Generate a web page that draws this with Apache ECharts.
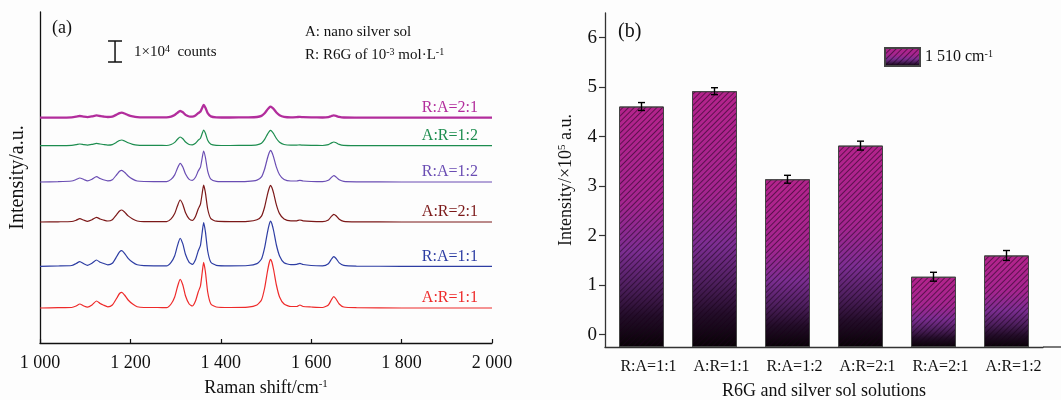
<!DOCTYPE html>
<html><head><meta charset="utf-8">
<script src="https://cdn.jsdelivr.net/npm/echarts@6/dist/echarts.min.js"></script>
<style>html,body{margin:0;padding:0;background:#fdfdfd}#c{width:1061px;height:400px}</style>
</head><body><div id="c"></div><script>
// ---------- panel (a): Raman spectra (intensity in a.u.) ----------
const wavenumbers = [1000,1040,1070,1080,1088,1097,1105,1115,1125,1133,1140,1150, 1160,1170,1176,1181,1187,1195,1205,1215,1230,1260,1280, 1290,1298,1304,1310,1316,1322,1330,1337, 1344,1350,1355,1359,1362,1366,1371,1378,1390, 1420,1460,1480,1490,1497,1503,1507,1510,1513,1517,1523,1530,1540,1555, 1568,1575,1582,1600,1625,1638,1645,1650,1655,1662,1672,1700,1800,1900,2000];
const spec_AR_1_1 = [0,0.3,0.5,2,4,2,0.8,3,7,4.5,3,1.2, 3,10,14.5,15.7,13,8,4,1.3,0.5,0.5,0.3, 4,11,21,28.7,23,12,4,2, 7,16,22,36,45.7,36,16,4,1, 0.5,0.8,3,8,20,36,45,48.7,46,38,23,11,4,1.5, 1.5,3,1.5,1,0.5,3,8.5,11.3,9,4,1,0.3,0,0,0];
const spec_RA_1_1 = [0,0.3,0.8,2.8,4.7,2.5,1,3,6.3,4,3,1.4, 3,10,14.5,15.7,13,8,4,1.5,0.6,0.5,0.4, 4,10.6,20.4,28,22.4,11.8,4,2, 6.6,15.3,21,34.5,43.7,34.5,15.3,4,1, 0.5,0.8,2.7,7.2,18.6,33.5,41.7,45.3,42.6,35.3,21.3,10.4,3.6,1.6, 2,3,1.8,0.8,0.5,2.6,7.3,9.7,7.8,3.4,0.9,0.2,0,0,0];
const spec_AR_2_1 = [0,0.2,0.5,1.8,3.3,1.8,0.7,2.2,4.7,3,2,1, 2.3,7.7,11,12,10,6.1,3,1,0.4,0.4,0.3, 3.1,8.4,16,22,17.6,9.2,3.1,1.6, 5.6,13,17.8,29.2,37,29.2,13,3.3,0.8, 0.4,0.7,2.2,5.9,15,27.2,33.8,36.7,34.5,28.6,17.2,8.4,2.9,1.1, 1.2,2,1.2,0.6,0.4,2.1,5.8,7.7,6.2,2.7,0.7,0.2,0,0,0];
const spec_RA_1_2 = [0,0.3,1,2.5,4,2.5,1.2,2.8,5.3,3.5,2.2,1.1, 2.2,7.5,10.8,11.7,9.7,6,2.9,1,0.5,0.4,0.3, 2.6,7.1,13.7,18.7,15,7.9,2.6,1.6, 4.7,10.9,14.9,24.5,31,24.5,10.9,2.8,0.7, 0.4,0.7,1.9,5.1,13,23.5,29.2,31.7,29.8,24.7,14.9,7.3,2.5,1, 1,1.7,1,0.5,0.3,1.7,4.7,6.3,5,2.2,0.6,0.2,0,0,0];
const spec_AR_1_2 = [0,0.1,0.4,1,1.7,1,0.6,1.3,2.3,1.7,1.2,0.6, 1.1,3.6,5.2,5.7,4.7,2.9,1.4,0.5,0.3,0.3,0.2, 1.2,3.3,6.4,8.7,7,3.7,1.2,0.9, 2.4,5.5,7.5,12.4,15.7,12.4,5.5,1.4,0.4, 0.2,0.4,0.9,2.4,6.3,11.3,14.1,15.3,14.4,11.9,7.2,3.5,1.2,0.5, 0.6,0.8,0.5,0.3,0.2,1,2.8,3.7,3,1.3,0.3,0.1,0,0,0];
const spec_RA_2_1 = [0,0.1,0.4,1,1.7,1,0.6,1.3,2.3,1.7,1.2,0.7, 1.1,3.2,4.6,5,4.2,2.6,1.3,0.5,0.3,0.3,0.3, 1,2.6,4.9,6.7,5.4,2.8,1.2,1, 2.2,4.5,6.2,10,12.7,10,4.5,1.3,0.4, 0.2,0.4,0.7,1.8,4.5,8.1,10.1,11,10.3,8.6,5.2,2.5,0.9,0.4, 0.6,0.8,0.5,0.3,0.2,0.6,1.7,2.3,1.8,0.8,0.2,0.1,0,0,0];
const spectrumNames = ['A:R=1:1','R:A=1:1','A:R=2:1','R:A=1:2','A:R=1:2','R:A=2:1'];
const spectrumData = [spec_AR_1_1, spec_RA_1_1, spec_AR_2_1, spec_RA_1_2, spec_AR_1_2, spec_RA_2_1];
const spectrumOffsets = [35, 76.7, 121, 161, 197.3, 225.3];
const scaleBarLength = 21; // a.u. equivalent of 1x10^4 counts
const xTicksA = [1000, 1200, 1400, 1600, 1800, 2000];

// ---------- panel (b): bar chart ----------
const barCategories = ['R:A=1:1','A:R=1:1','R:A=1:2','A:R=2:1','R:A=2:1','A:R=1:2'];
const barValues = [4.61, 4.92, 3.14, 3.82, 1.17, 1.60];
const barErrors = [0.08, 0.07, 0.08, 0.09, 0.09, 0.10];
const yTicksB = [0, 1, 2, 3, 4, 5, 6];

// ---------- styling ----------
const FONT = 'Liberation Serif';
const lineColors = ['#ee2a2a', '#2d3da3', '#7b1818', '#6a4db3', '#1d8d4f', '#b22d9c'];
const lineWidths = [1.2, 1.2, 1.2, 1.2, 1.2, 2.3];

const chart = echarts.init(document.getElementById('c'));

const spectraSeries = spectrumData.map((arr, k) => ({
  type: 'line', name: spectrumNames[k], xAxisIndex: 0, yAxisIndex: 0,
  data: wavenumbers.map((w, i) => [w, arr[i] + spectrumOffsets[k]]),
  showSymbol: false, symbol: 'none', smooth: 0.2,
  lineStyle: { color: lineColors[k], width: lineWidths[k] },
  itemStyle: { color: lineColors[k] },
  endLabel: { show: true, formatter: spectrumNames[k], color: lineColors[k],
    fontFamily: FONT, fontSize: 16, align: 'right', verticalAlign: 'middle', distance: 0, offset: [-14, -10] },
  silent: true, animation: false
}));

const barGradient = new echarts.graphic.LinearGradient(0, 0, 0, 1, [
  { offset: 0, color: '#b4238c' },
  { offset: 0.4, color: '#a4258f' },
  { offset: 0.6, color: '#7c2e92' },
  { offset: 0.75, color: '#4d1f5d' },
  { offset: 0.87, color: '#230d29' },
  { offset: 1, color: '#080205' }
]);

const option = {
  backgroundColor: '#fdfdfd',
  animation: false,
  textStyle: { fontFamily: FONT, color: '#111' },
  grid: [
    { left: 40, right: 569, top: 12, bottom: 57, outerBoundsMode: 'none', containLabel: false },
    { left: 605, right: 18, top: 13, bottom: 53, outerBoundsMode: 'none', containLabel: false }
  ],
  legend: {
    data: ['1 510 cm-1'], left: 884, top: 47, padding: 0, itemWidth: 35, itemHeight: 18, icon: 'rect', itemGap: 4,
    formatter: () => '1 510 cm{sup|-1}',
    textStyle: { fontFamily: FONT, fontSize: 16, color: '#111', rich: { sup: { fontSize: 10, verticalAlign: 'top', fontFamily: FONT, padding: [0, 0, 6, 0] } } }
  },
  xAxis: [
    { type: 'value', gridIndex: 0, min: 1000, max: 2000, interval: 200,
      axisLine: { lineStyle: { color: '#111', width: 1.3 } },
      axisTick: { inside: true, length: 4, lineStyle: { color: '#111', width: 1.2 } },
      axisLabel: { fontFamily: FONT, fontSize: 18, color: '#111', margin: 11,
        formatter: v => String(v).replace(/\B(?=(\d{3})+(?!\d))/g, ' ') },
      splitLine: { show: false },
      name: 'Raman shift/cm{sup|-1}', nameLocation: 'middle', nameGap: 36,
      nameTextStyle: { fontFamily: FONT, fontSize: 18, color: '#111', rich: { sup: { fontSize: 11, verticalAlign: 'top', padding: [0, 0, 6, 0] } } }
    },
    { type: 'category', gridIndex: 1, data: barCategories,
      axisLine: { onZero: false, lineStyle: { color: '#333', width: 1.3 } },
      axisTick: { alignWithLabel: true, length: 6, lineStyle: { color: '#333', width: 1.2 } },
      axisLabel: { fontFamily: FONT, fontSize: 16, color: '#111', margin: 12, padding: [0, 0, 0, 14], interval: 0 },
      name: 'R6G and silver sol solutions', nameLocation: 'middle', nameGap: 35,
      nameTextStyle: { fontFamily: FONT, fontSize: 18, color: '#111' }
    }
  ],
  yAxis: [
    { type: 'value', gridIndex: 0, min: 0, max: 331,
      axisLine: { show: true, lineStyle: { color: '#111', width: 1.3 } },
      axisTick: { show: false }, axisLabel: { show: false }, splitLine: { show: false },
      name: 'Intensity/a.u.', nameLocation: 'middle', nameGap: 12,
      nameTextStyle: { fontFamily: FONT, fontSize: 20, color: '#111' }
    },
    { type: 'value', gridIndex: 1, min: -0.25, max: 6.5, startValue: -0.25,
      axisLine: { show: true, lineStyle: { color: '#333', width: 1.3 } },
      axisTick: { show: true, length: 6, customValues: yTicksB, lineStyle: { color: '#333', width: 1.2 } },
      axisLabel: { fontFamily: FONT, fontSize: 19, color: '#111', margin: 8, customValues: yTicksB },
      splitLine: { show: false },
      name: 'Intensity/×10{sup|5} a.u.', nameLocation: 'middle', nameGap: 30,
      nameTextStyle: { fontFamily: FONT, fontSize: 18, color: '#111', rich: { sup: { fontSize: 11, verticalAlign: 'top', padding: [0, 0, 6, 0] } } }
    }
  ],
  series: [
    ...spectraSeries,
    { type: 'custom', name: 'scalebar', xAxisIndex: 0, yAxisIndex: 0, silent: true,
      data: [[scaleBarLength]],
      renderItem: (params, api) => {
        const len = api.value(0);
        const p0 = api.coord([1166, 281]);
        const p1 = api.coord([1166, 281 + len]);
        const hw = 7, st = { stroke: '#111', lineWidth: 1.5 };
        return { type: 'group', children: [
          { type: 'line', shape: { x1: p0[0], y1: p0[1], x2: p1[0], y2: p1[1] }, style: st },
          { type: 'line', shape: { x1: p0[0] - hw, y1: p0[1], x2: p0[0] + hw, y2: p0[1] }, style: st },
          { type: 'line', shape: { x1: p1[0] - hw, y1: p1[1], x2: p1[0] + hw, y2: p1[1] }, style: st }
        ] };
      }
    },
    { type: 'bar', name: '1 510 cm-1', xAxisIndex: 1, yAxisIndex: 1, data: barValues, barWidth: 45,
      itemStyle: { color: barGradient, borderColor: '#444', borderWidth: 1,
        decal: { symbol: 'rect', symbolSize: 1, dashArrayX: [1, 0], dashArrayY: [1, 2.6], rotation: -Math.PI / 4, color: 'rgba(25,0,25,0.55)' } },
      silent: true
    },
    { type: 'custom', name: 'err', xAxisIndex: 1, yAxisIndex: 1, silent: true, z: 5,
      data: barValues.map((v, i) => [i, v, barErrors[i]]),
      renderItem: (params, api) => {
        const x = api.value(0), v = api.value(1), e = api.value(2);
        const t = api.coord([x, v + e]), b = api.coord([x, v - e]);
        const hw = 3.5, st = { stroke: '#000', lineWidth: 1.4 };
        return { type: 'group', children: [
          { type: 'line', shape: { x1: t[0], y1: t[1], x2: b[0], y2: b[1] }, style: st },
          { type: 'line', shape: { x1: t[0] - hw, y1: t[1], x2: t[0] + hw, y2: t[1] }, style: st },
          { type: 'line', shape: { x1: b[0] - hw, y1: b[1], x2: b[0] + hw, y2: b[1] }, style: st }
        ] };
      }
    }
  ],
  graphic: [
    { type: 'text', x: 52, y: 28, style: { text: '(a)', fontFamily: FONT, fontSize: 18, fill: '#111', verticalAlign: 'middle' } },
    { type: 'text', x: 134, y: 52, style: { text: '1×10{sup|4}  counts', fontFamily: FONT, fontSize: 15, fill: '#111', verticalAlign: 'middle',
      rich: { sup: { fontSize: 10, fontFamily: FONT, verticalAlign: 'top', padding: [0, 0, 6, 0] } } } },
    { type: 'text', x: 305, y: 32, style: { text: 'A: nano silver sol', fontFamily: FONT, fontSize: 15, fill: '#111', verticalAlign: 'middle' } },
    { type: 'text', x: 305, y: 55, style: { text: 'R: R6G of 10{sup|-3} mol·L{sup|-1}', fontFamily: FONT, fontSize: 15, fill: '#111', verticalAlign: 'middle',
      rich: { sup: { fontSize: 10, fontFamily: FONT, verticalAlign: 'top', padding: [0, 0, 6, 0] } } } },
    { type: 'text', x: 618, y: 32, style: { text: '(b)', fontFamily: FONT, fontSize: 20, fill: '#111', verticalAlign: 'middle' } },
    { type: 'line', shape: { x1: 1043, y1: 347, x2: 1061, y2: 347 }, style: { stroke: '#333', lineWidth: 1.3 } }
  ]
};
chart.setOption(option);
</script></body></html>
